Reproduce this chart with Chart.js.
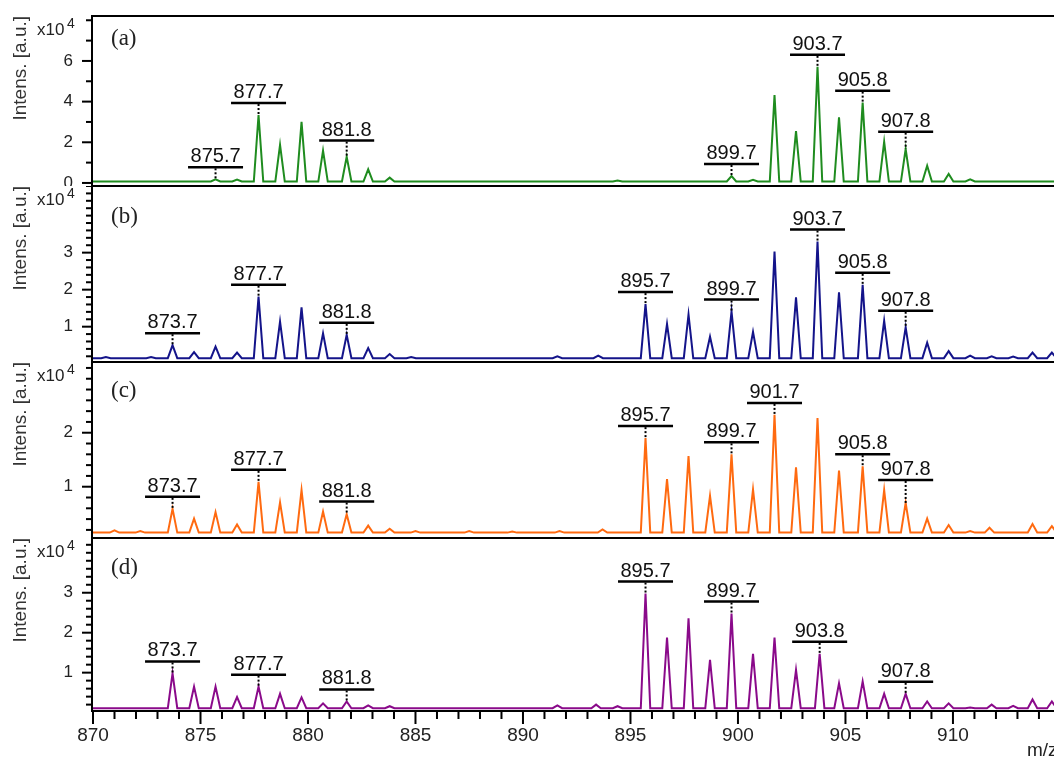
<!DOCTYPE html>
<html>
<head>
<meta charset="utf-8">
<script src="https://cdn.jsdelivr.net/npm/chart.js@4.4.0/dist/chart.umd.min.js"></script>
<style>
  body { margin: 0; background: #fff; }
  #wrap { position: relative; width: 1054px; height: 765px; overflow: hidden; }
  canvas { position: absolute; left: 0; }
</style>
</head>
<body>
<div id="wrap">
  <canvas id="pa" width="1054" height="186" style="top:0"></canvas>
  <canvas id="pb" width="1054" height="176" style="top:186px"></canvas>
  <canvas id="pc" width="1054" height="176" style="top:362px"></canvas>
  <canvas id="pd" width="1054" height="227" style="top:538px"></canvas>
</div>
<script>
const xMin = 870, xMax = 914.7;

// (a) peaks: m/z and intensity (x10^4)
const mzA  = [875.7, 876.7, 877.7, 878.7, 879.7, 880.7, 881.8, 882.8, 883.8, 894.4,
              899.7, 900.7, 901.7, 902.7, 903.7, 904.7, 905.8, 906.8, 907.8, 908.8, 909.8, 910.8];
const intA = [0.18, 0.17, 3.34, 1.87, 3.0, 1.59, 1.29, 0.67, 0.26, 0.12,
              0.34, 0.15, 4.32, 2.55, 5.71, 3.23, 3.95, 2.03, 1.67, 0.85, 0.44, 0.18];
const baseA = 0.07;
const labelsA = [875.7, 877.7, 881.8, 899.7, 903.7, 905.8, 907.8];
const ticksA = [0, 2, 4, 6];

// (b)
const mzB  = [870.6, 872.7, 873.7, 874.7, 875.7, 876.7, 877.7, 878.7, 879.7, 880.7, 881.8, 882.8, 883.8, 884.8,
              891.6, 893.5, 895.7, 896.7, 897.7, 898.7, 899.7, 900.7, 901.7, 902.7, 903.7, 904.7, 905.8,
              906.8, 907.8, 908.8, 909.8, 910.8, 911.8, 912.8, 913.7, 914.6];
const intB = [0.18, 0.18, 0.5, 0.31, 0.46, 0.3, 1.81, 1.14, 1.52, 0.82, 0.78, 0.42, 0.26, 0.18,
              0.2, 0.22, 1.61, 1.07, 1.33, 0.73, 1.41, 0.86, 3.03, 1.79, 3.3, 1.93, 2.13,
              1.16, 0.98, 0.57, 0.34, 0.22, 0.2, 0.19, 0.3, 0.3];
const baseB = 0.15;
const labelsB = [873.7, 877.7, 881.8, 895.7, 899.7, 903.7, 905.8, 907.8];
const ticksB = [1, 2, 3];

// (c)
const mzC  = [871.0, 872.2, 873.7, 874.7, 875.7, 876.7, 877.7, 878.7, 879.7, 880.7, 881.8, 882.8, 883.8,
              885.0, 887.5, 889.5, 891.7, 893.7, 895.7, 896.7, 897.7, 898.7, 899.7, 900.7, 901.7, 902.7,
              903.7, 904.7, 905.8, 906.8, 907.8, 908.8, 909.8, 910.8, 911.7, 913.7, 914.6];
const intC = [0.19, 0.18, 0.59, 0.41, 0.53, 0.3, 1.09, 0.71, 0.94, 0.54, 0.49, 0.28, 0.22,
              0.18, 0.18, 0.17, 0.18, 0.21, 1.9, 1.14, 1.57, 0.83, 1.6, 0.95, 2.33, 1.36,
              2.27, 1.3, 1.38, 0.94, 0.7, 0.41, 0.29, 0.18, 0.24, 0.31, 0.27];
const baseC = 0.15;
const labelsC = [873.7, 877.7, 881.8, 895.7, 899.7, 901.7, 905.8, 907.8];
const ticksC = [1, 2];

// (d)
const mzD  = [873.7, 874.7, 875.7, 876.7, 877.7, 878.7, 879.7, 880.7, 881.8, 882.8, 883.8,
              891.6, 893.4, 894.4, 895.7, 896.7, 897.7, 898.7, 899.7, 900.7, 901.7, 902.7, 903.8,
              904.7, 905.8, 906.8, 907.8, 908.8, 909.8, 910.8, 911.8, 912.8, 913.7, 914.6];
const intD = [0.98, 0.65, 0.65, 0.39, 0.65, 0.47, 0.38, 0.23, 0.28, 0.18, 0.16,
              0.18, 0.2, 0.16, 2.98, 1.88, 2.36, 1.32, 2.48, 1.47, 1.88, 1.07, 1.47,
              0.73, 0.78, 0.47, 0.47, 0.28, 0.23, 0.13, 0.2, 0.17, 0.33, 0.28];
const baseD = 0.11;
const labelsD = [873.7, 877.7, 881.8, 895.7, 899.7, 903.8, 907.8];
const ticksD = [1, 2, 3];

const xTickLabels = [870, 875, 880, 885, 890, 895, 900, 905, 910];

Chart.defaults.font.family = '"Liberation Sans", Arial, sans-serif';
Chart.defaults.color = '#222';

function spectrum(mz, inten, base) {
  const pts = [{x: xMin - 1, y: base}];
  mz.forEach((m, i) => {
    pts.push({x: m - 0.22, y: base}, {x: m, y: inten[i]}, {x: m + 0.22, y: base});
  });
  pts.push({x: xMax + 1, y: base});
  return pts;
}

const isIn = (list, v) => list.some(t => Math.abs(t - v) < 1e-6);

const decor = {
  id: 'decor',
  afterDatasetsDraw(chart, args, o) {
    const {ctx, scales: {x, y}} = chart;
    ctx.save();
    ctx.fillStyle = '#111';
    ctx.strokeStyle = '#000';
    ctx.font = '20px "Liberation Sans", Arial, sans-serif';
    ctx.textAlign = 'center';
    ctx.textBaseline = 'alphabetic';
    o.peaks.forEach(m => {
      let i = 0;
      o.mz.forEach((n, j) => { if (Math.abs(n - m) < Math.abs(o.mz[i] - m)) i = j; });
      const px = x.getPixelForValue(m);
      const top = y.getPixelForValue(o.inten[i]);
      let barY = top - 12;
      o.mz.forEach((n, j) => {
        if (j !== i && Math.abs(n - m) < 1.15) barY = Math.min(barY, y.getPixelForValue(o.inten[j]) - 10);
      });
      ctx.setLineDash([]);
      ctx.lineWidth = 2.5;
      ctx.beginPath();
      ctx.moveTo(px - 27.5, barY);
      ctx.lineTo(px + 27.5, barY);
      ctx.stroke();
      ctx.setLineDash([2, 2]);
      ctx.lineWidth = 2;
      ctx.beginPath();
      ctx.moveTo(px, barY + 1);
      ctx.lineTo(px, top);
      ctx.stroke();
      ctx.fillText(m.toFixed(1), px, barY - 5);
    });
    ctx.restore();
  },
  afterDraw(chart, args, o) {
    const {ctx, chartArea: ca, scales: {x, y}} = chart;
    ctx.save();
    ctx.fillStyle = '#000';
    const w = ca.right - ca.left + 2;
    ctx.fillRect(ca.left - 2, ca.top - 1, w, 2);
    ctx.fillRect(ca.left - 2, ca.bottom - 1, w, 2);
    ctx.fillRect(ca.left - 2, ca.top - 1, 2, ca.bottom - ca.top + 2);
    y.ticks.forEach(t => {
      const py = y.getPixelForValue(t.value);
      const len = t.label !== '' ? 11 : 7;
      ctx.fillRect(ca.left - len, py - 1, len, 2);
    });
    if (o.showX) {
      x.ticks.forEach(t => {
        const px = x.getPixelForValue(t.value);
        const len = t.label !== '' ? 13 : 8;
        ctx.fillRect(px - 1, ca.bottom, 2, len);
      });
      ctx.fillStyle = '#222';
      ctx.font = '19px "Liberation Sans", Arial, sans-serif';
      ctx.textAlign = 'left';
      ctx.fillText('m/z', 1027, ca.bottom + 45);
    }
    ctx.fillStyle = '#222';
    ctx.textAlign = 'left';
    ctx.textBaseline = 'alphabetic';
    ctx.font = '17px "Liberation Sans", Arial, sans-serif';
    ctx.fillText('x10', 37, ca.top + 19);
    ctx.font = '14px "Liberation Sans", Arial, sans-serif';
    ctx.fillText('4', 67, ca.top + 12);
    ctx.font = '23px "Liberation Serif", "Times New Roman", serif';
    ctx.textBaseline = 'middle';
    ctx.fillText(o.letter, 111, ca.top + o.letterDy);
    ctx.restore();
  }
};

function panel(id, mz, inten, base, color, yMin, yMax, step, tickLabels, peaks, letter, letterDy, padTop, showX) {
  new Chart(document.getElementById(id), {
    type: 'line',
    data: {
      datasets: [{
        data: spectrum(mz, inten, base),
        borderColor: color,
        borderWidth: 2,
        pointRadius: 0,
        tension: 0,
        fill: false
      }]
    },
    options: {
      responsive: false,
      maintainAspectRatio: false,
      animation: false,
      devicePixelRatio: 1,
      layout: { padding: { top: padTop, left: 0, right: 0, bottom: 0 } },
      plugins: {
        legend: { display: false },
        tooltip: { enabled: false },
        decor: { mz: mz, inten: inten, peaks: peaks, letter: letter, letterDy: letterDy, showX: showX }
      },
      scales: {
        x: {
          type: 'linear',
          min: xMin,
          max: xMax,
          display: showX,
          afterFit: s => {
            s.height = showX ? 54 : 0;
            s.paddingLeft = 0;
            s.paddingRight = 0;
          },
          grid: { display: false, drawTicks: false },
          border: { display: false },
          ticks: {
            stepSize: 1,
            includeBounds: false,
            autoSkip: false,
            maxRotation: 0,
            padding: 13,
            font: { size: 19 },
            color: '#222',
            callback: v => isIn(xTickLabels, v) ? String(Math.round(v)) : ''
          }
        },
        y: {
          type: 'linear',
          min: yMin,
          max: yMax,
          afterFit: s => {
            s.width = 93;
            s.paddingTop = 0;
            s.paddingBottom = 0;
          },
          grid: { display: false, drawTicks: false },
          border: { display: false },
          title: {
            display: true,
            text: 'Intens. [a.u.]',
            align: 'end',
            color: '#333',
            font: { size: 19 },
            padding: { top: 9, bottom: 0 }
          },
          ticks: {
            stepSize: step,
            includeBounds: false,
            autoSkip: false,
            padding: 20,
            font: { size: 17 },
            color: '#222',
            callback: v => isIn(tickLabels, v) ? String(Math.round(v)) : ''
          }
        }
      }
    },
    plugins: [decor]
  });
}

panel('pa', mzA, intA, baseA, '#1f8c1f', -0.15, 8.21, 1, ticksA, labelsA, '(a)', 23, 16, false);
panel('pb', mzB, intB, baseB, '#14148a', 0.046, 4.8, 0.2, ticksB, labelsB, '(b)', 31, 0, false);
panel('pc', mzC, intC, baseC, '#ff6a10', 0.05, 3.31, 0.2, ticksC, labelsC, '(c)', 29, 0, false);
panel('pd', mzD, intD, baseD, '#8a0a8a', 0.04, 4.37, 0.2, ticksD, labelsD, '(d)', 30, 0, true);
</script>
</body>
</html>
